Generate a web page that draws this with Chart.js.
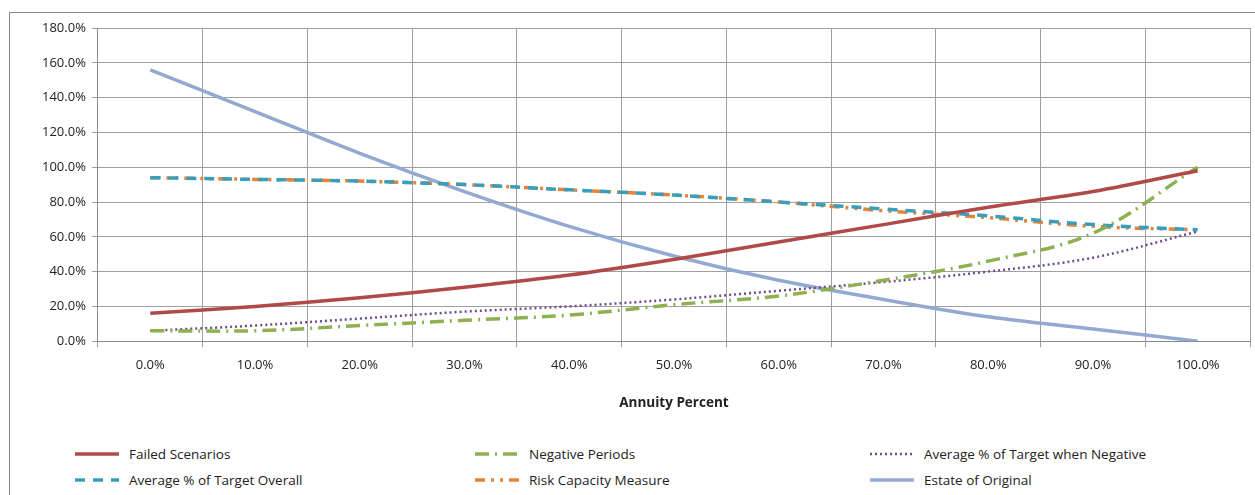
<!DOCTYPE html>
<html>
<head>
<meta charset="utf-8">
<script src="https://cdn.jsdelivr.net/npm/chart.js@4"></script>
<style>
  body { margin: 0; background: #fff; font-family: 'Open Sans', sans-serif; }
  #frame { position: absolute; left: 9px; top: 12px; width: 1250px; height: 490px; border: 1px solid #888; border-right: none; border-bottom: none; }
  #wrap { position: absolute; left: 10px; top: 13px; width: 1245px; height: 402px; }
  #legend { position: absolute; left: 75px; top: 445px; width: 1180px; display: grid; grid-template-columns: 400px 395px 385px; row-gap: 8px; font-size: 13.5px; color: #222; }
  .item { display: flex; align-items: center; height: 18px; }
  .item svg { margin-right: 10px; }
</style>
</head>
<body>
<div id="frame"></div>
<div id="wrap"><canvas id="chart"></canvas></div>
<div id="legend"></div>
<script>
'use strict';

const categories = ['0.0%', '10.0%', '20.0%', '30.0%', '40.0%', '50.0%', '60.0%', '70.0%', '80.0%', '90.0%', '100.0%'];
const failedScenarios = [16, 20, 25, 31, 38, 47, 57, 67, 77, 86, 98];
const negativePeriods = [6, 6, 9, 12, 15, 21, 26, 35, 46, 62, 100];
const avgTargetNegative = [6, 9, 13, 17, 20, 24, 29, 34, 40, 48, 63];
const avgTargetOverall = [94, 93, 92, 90, 87, 84, 80, 76, 72, 67, 64];
const riskCapacity = [94, 93, 92, 90, 87, 84, 80, 75, 71, 66, 64];
const estateOfOriginal = [156, 132, 108, 86, 66, 49, 35, 24, 14, 7, 0];

// Legend order follows the reference (row by row)
const series = [
  { label: 'Failed Scenarios', data: failedScenarios, color: '#b04a48', width: 3.5, dash: [] },
  { label: 'Negative Periods', data: negativePeriods, color: '#8db050', width: 3.5, dash: [14, 6, 2, 6] },
  { label: 'Average % of Target when Negative', data: avgTargetNegative, color: '#6e4f8c', width: 2.5, dash: [2, 3] },
  { label: 'Average % of Target Overall', data: avgTargetOverall, color: '#3a9ebb', width: 3.5, dash: [10, 8] },
  { label: 'Risk Capacity Measure', data: riskCapacity, color: '#e2853a', width: 3.5, dash: [10, 6, 3, 6, 3, 6] },
  { label: 'Estate of Original', data: estateOfOriginal, color: '#93a9d2', width: 3.5, dash: [] }
];

const tickFont = { family: 'Open Sans', size: 13 };

const config = {
  type: 'line',
  data: {
    labels: categories,
    datasets: series.map(s => ({
      label: s.label,
      data: s.data,
      borderColor: s.color,
      borderWidth: s.width,
      borderDash: s.dash,
      pointRadius: 0,
      tension: 0.35,
      fill: false
    }))
  },
  options: {
    responsive: true,
    maintainAspectRatio: false,
    animation: false,
    layout: { padding: { top: 15, right: 5, left: 26 } },
    plugins: { legend: { display: false }, tooltip: { enabled: false } },
    scales: {
      x: {
        offset: true,
        grid: { offset: true, color: '#a0a0a0', tickLength: 6 },
        border: { color: '#888' },
        ticks: { color: '#222', font: tickFont, maxRotation: 0, padding: 10 },
        title: { display: true, text: 'Annuity Percent', color: '#222', font: { family: 'Open Sans', size: 13.5, weight: 'bold' }, padding: { top: 12 } }
      },
      y: {
        min: 0, max: 180,
        ticks: { stepSize: 20, color: '#222', font: tickFont, callback: v => v.toFixed(1) + '%', padding: 6 },
        grid: { color: '#a0a0a0', tickLength: 6 },
        border: { color: '#888' }
      }
    }
  }
};

new Chart(document.getElementById('chart'), config);

// HTML legend with line style samples
const legend = document.getElementById('legend');
for (const s of series) {
  const item = document.createElement('div');
  item.className = 'item';
  item.innerHTML = '<svg width="44" height="8"><line x1="0" y1="4" x2="44" y2="4" stroke="' + s.color +
    '" stroke-width="' + s.width + '" stroke-dasharray="' + (s.dash.length ? s.dash.join(',') : 'none') + '"/></svg>' +
    '<span>' + s.label + '</span>';
  legend.appendChild(item);
}
</script>
</body>
</html>
